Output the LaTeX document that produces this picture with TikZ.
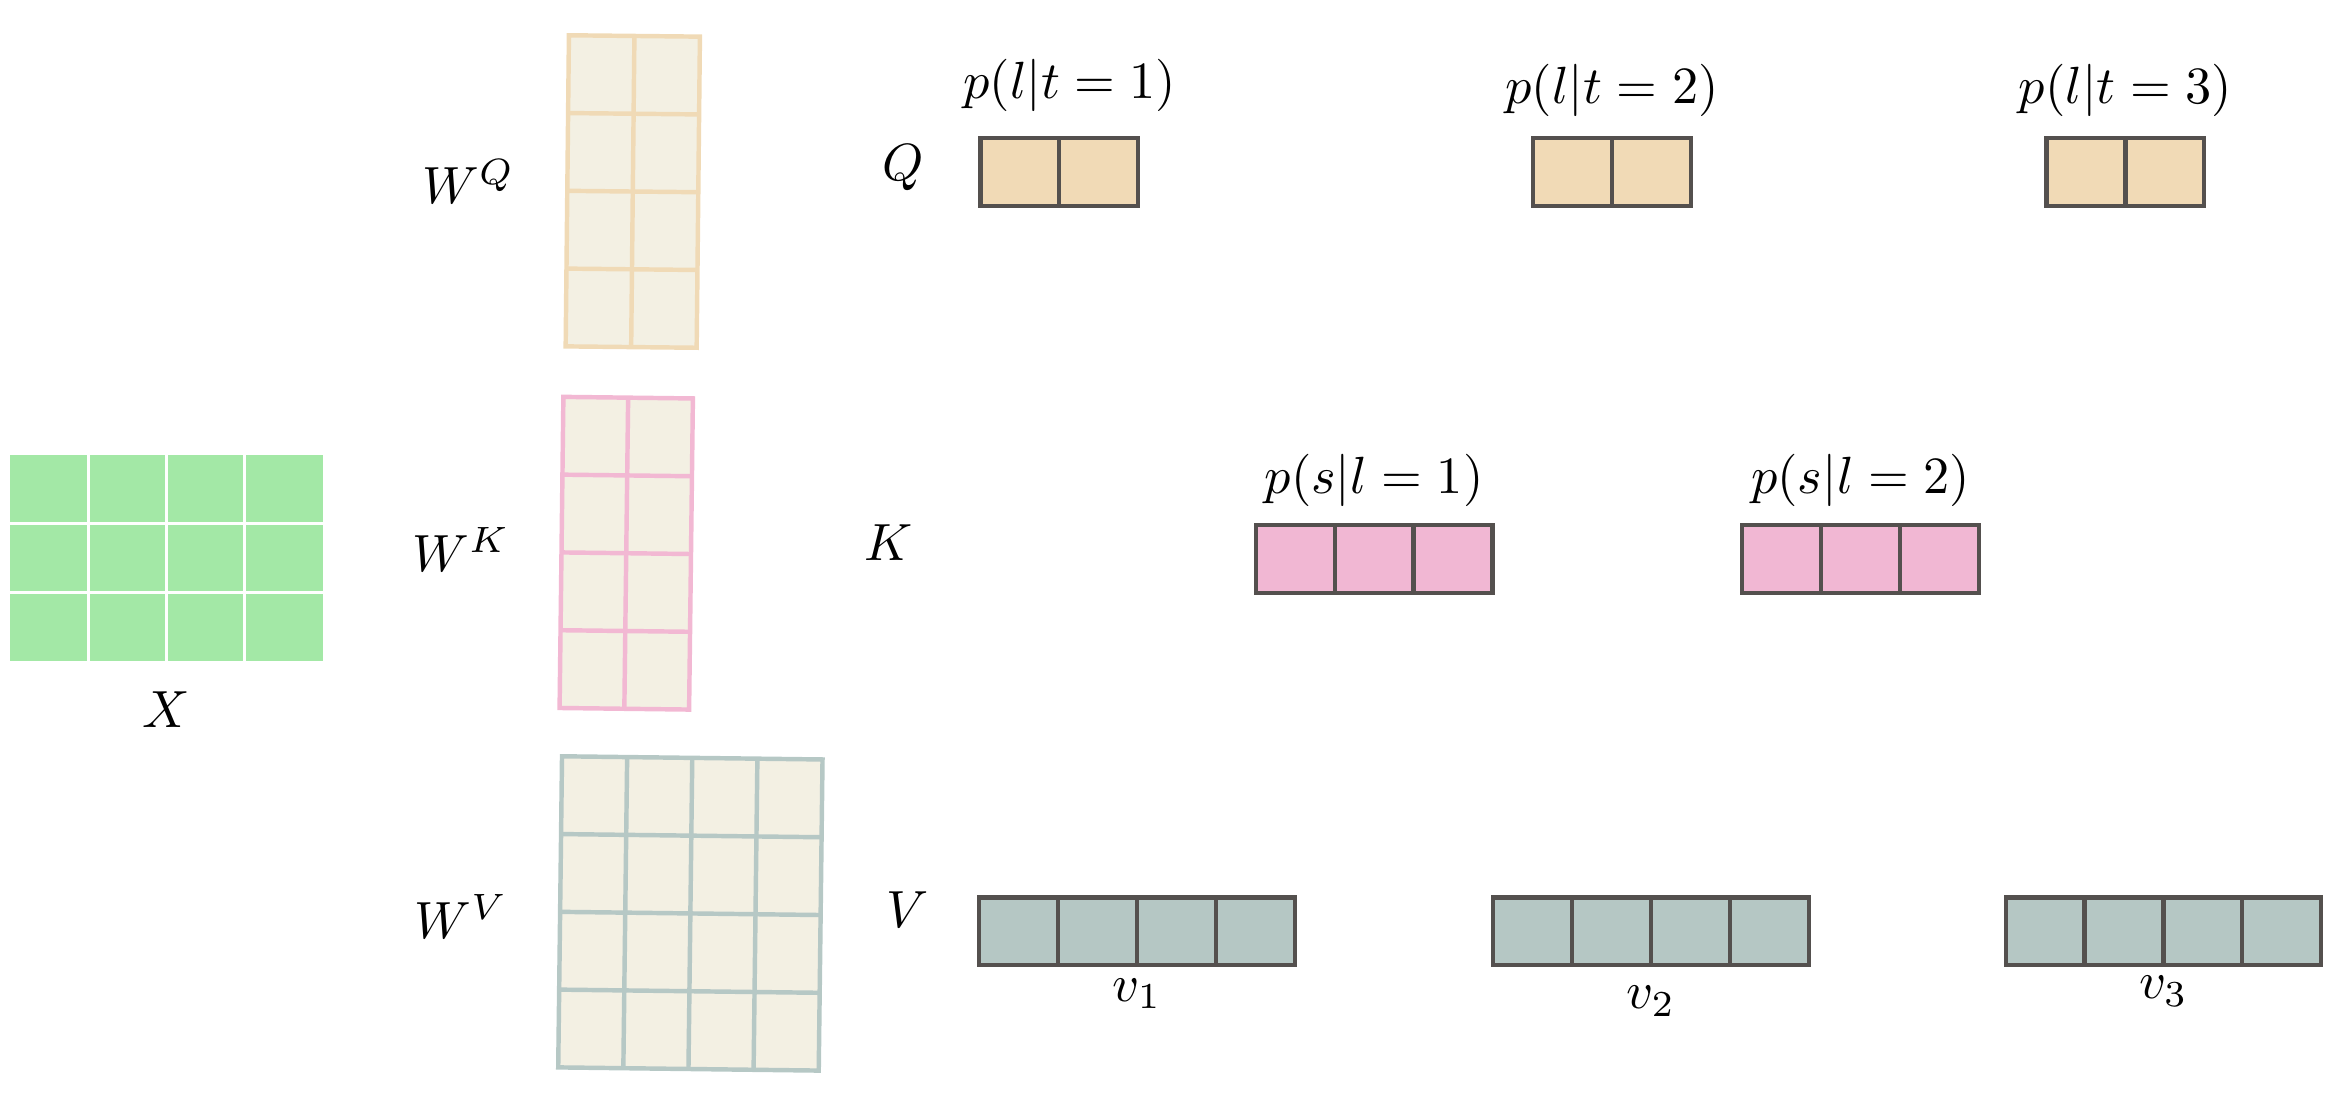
\documentclass[tikz,border=0pt]{standalone}
\usepackage{amsmath}
\usepackage{tikz}
\usetikzlibrary{positioning,calc}
\definecolor{xgreen}{RGB}{163,232,166}
\definecolor{wcream}{RGB}{243,240,227}
\definecolor{wqline}{RGB}{240,218,182}
\definecolor{wkline}{RGB}{242,184,211}
\definecolor{wvline}{RGB}{182,200,197}
\definecolor{qfill}{RGB}{241,218,182}
\definecolor{kfill}{RGB}{241,183,211}
\definecolor{vfill}{RGB}{181,199,196}
\definecolor{cellgray}{RGB}{84,80,78}
\tikzstyle{cell} = [rectangle, minimum width=0.53cm, minimum height=0.455cm, draw=cellgray, line width=0.8pt, inner sep=0pt, outer sep=0pt]
\tikzstyle{qcell} = [cell, fill=qfill]
\tikzstyle{kcell} = [cell, fill=kfill]
\tikzstyle{vcell} = [cell, fill=vfill]
\tikzstyle{xbox} = [rectangle, fill=xgreen, minimum width=2.1cm, minimum height=1.38cm, inner sep=0pt, outer sep=0pt]
\tikzstyle{xline} = [white, line width=0.6pt]
\tikzstyle{wbox} = [rectangle, fill=wcream, minimum height=2.09cm, line width=0.85pt, inner sep=0pt, outer sep=0pt]
\tikzstyle{wline} = [line width=0.85pt]

\begin{document}
\begin{tikzpicture}[x=0.01cm, y=-0.01cm]
\useasboundingbox (0,0) rectangle (1568,750);

% Input matrix
\node[xbox] (xmat) at (112,375) {};
\foreach \f in {0.25,0.5,0.75}
  \draw[xline] ($(xmat.north west)!\f!(xmat.north east)$) -- ($(xmat.south west)!\f!(xmat.south east)$);
\foreach \f in {0.333,0.667}
  \draw[xline] ($(xmat.north west)!\f!(xmat.south west)$) -- ($(xmat.north east)!\f!(xmat.south east)$);
\node (xlab) at (112,477) {$X$};

% Weight matrices
\node[wbox, draw=wqline, minimum width=0.88cm, rotate=-0.6] (wq) at (425.3,128.7) {};
\draw[wline, wqline] ($(wq.north west)!0.5!(wq.north east)$) -- ($(wq.south west)!0.5!(wq.south east)$);
\foreach \f in {0.25,0.5,0.75}
  \draw[wline, wqline] ($(wq.north west)!\f!(wq.south west)$) -- ($(wq.north east)!\f!(wq.south east)$);

\node[wbox, draw=wkline, minimum width=0.87cm, rotate=-0.7] (wk) at (420.9,371.8) {};
\draw[wline, wkline] ($(wk.north west)!0.5!(wk.north east)$) -- ($(wk.south west)!0.5!(wk.south east)$);
\foreach \f in {0.25,0.5,0.75}
  \draw[wline, wkline] ($(wk.north west)!\f!(wk.south west)$) -- ($(wk.north east)!\f!(wk.south east)$);

\node[wbox, draw=wvline, minimum width=1.75cm, rotate=-0.7] (wv) at (464,613.9) {};
\foreach \f in {0.25,0.5,0.75}
  \draw[wline, wvline] ($(wv.north west)!\f!(wv.north east)$) -- ($(wv.south west)!\f!(wv.south east)$);
\foreach \f in {0.25,0.5,0.75}
  \draw[wline, wvline] ($(wv.north west)!\f!(wv.south west)$) -- ($(wv.north east)!\f!(wv.south east)$);

\node (wqlab) at (315,122) {$W^Q$};
\node (wklab) at (310,369) {$W^K$};
\node (wvlab) at (310,616) {$W^V$};

% Row labels
\node (qlab) at (607,113) {$Q$};
\node (klab) at (597,365) {$K$};
\node (vlab) at (610,611) {$V$};

% Query vectors
\node[qcell] (q1a) at (685.5,115.5) {};
\node[qcell, right=0pt of q1a] (q1b) {};
\node[qcell] (q2a) at (1057,115.5) {};
\node[qcell, right=0pt of q2a] (q2b) {};
\node[qcell] (q3a) at (1402,115.5) {};
\node[qcell, right=0pt of q3a] (q3b) {};
\node[above=1.5pt of q1a.north east, xshift=2pt] (pq1) {$p(l|t=1)$};
\node[above=0.5pt of q2a.north east] (pq2) {$p(l|t=2)$};
\node[above=0.5pt of q3a.north east] (pq3) {$p(l|t=3)$};

% Key vectors
\node[kcell] (k1a) at (870.5,375.7) {};
\node[kcell, right=0pt of k1a] (k1b) {};
\node[kcell, right=0pt of k1b] (k1c) {};
\node[kcell] (k2a) at (1197.5,375.7) {};
\node[kcell, right=0pt of k2a] (k2b) {};
\node[kcell, right=0pt of k2b] (k2c) {};
\node[above=0pt of k1b] (pk1) {$p(s|l=1)$};
\node[above=0pt of k2b] (pk2) {$p(s|l=2)$};

% Value vectors
\node[vcell] (v1a) at (684.7,626) {};
\node[vcell, right=0pt of v1a] (v1b) {};
\node[vcell, right=0pt of v1b] (v1c) {};
\node[vcell, right=0pt of v1c] (v1d) {};
\node[vcell] (v2a) at (1030,626) {};
\node[vcell, right=0pt of v2a] (v2b) {};
\node[vcell, right=0pt of v2b] (v2c) {};
\node[vcell, right=0pt of v2c] (v2d) {};
\node[vcell] (v3a) at (1374.5,626) {};
\node[vcell, right=0pt of v3a] (v3b) {};
\node[vcell, right=0pt of v3b] (v3c) {};
\node[vcell, right=0pt of v3c] (v3d) {};
\node[below=-1pt of v1b.south east] (vl1) {$v_1$};
\node[below=0.5pt of v2b.south east] (vl2) {$v_2$};
\node[below=-1.5pt of v3b.south east] (vl3) {$v_3$};
\end{tikzpicture}
\end{document}
